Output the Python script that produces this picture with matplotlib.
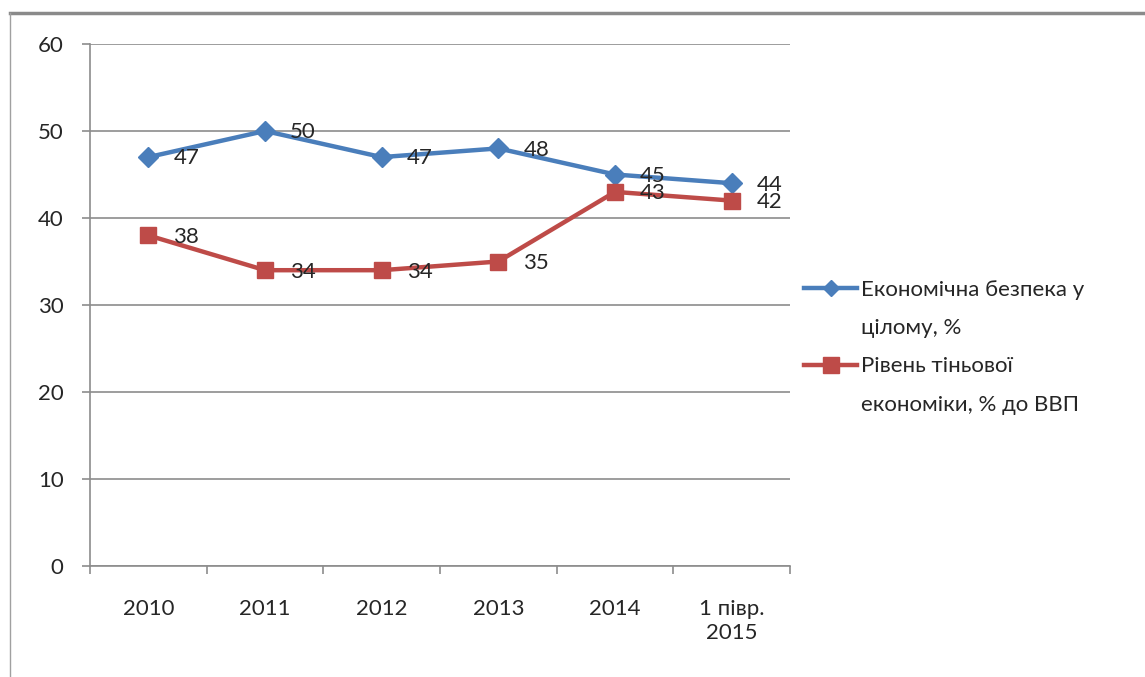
import matplotlib.pyplot as plt
from matplotlib.lines import Line2D

plt.rcParams['font.family'] = ['Lato', 'DejaVu Sans']

# data
categories = ['2010', '2011', '2012', '2013', '2014', '1 півр.\n2015']
econ_security = [47, 50, 47, 48, 45, 44]
shadow_economy = [38, 34, 34, 35, 43, 42]
legend_lines = [['Економічна безпека у', 'цілому, %'],
                ['Рівень тіньової', 'економіки, % до ВВП']]

blue = '#4A7EBB'
red = '#BE4B48'
grid_c = '#8C8C8C'
txt_c = '#262626'
fs = 16

fig = plt.figure(figsize=(11.45, 6.77), dpi=100)
ax = fig.add_axes([90 / 1145, 1 - 566 / 677, 700 / 1145, 522 / 677])

x = list(range(len(categories)))
ax.plot(x, econ_security, color=blue, lw=3.2, marker='D', ms=10,
        mec=blue, mfc=blue, zorder=3)
ax.plot(x, shadow_economy, color=red, lw=3.2, marker='s', ms=12,
        mec=red, mfc=red, zorder=3)

# value labels to the right of each point
for xi, v in zip(x, econ_security):
    ax.annotate(str(v), (xi, v), xytext=(18, -1), textcoords='offset points',
                ha='left', va='center', fontsize=fs, color=txt_c, zorder=4)
for xi, v in zip(x, shadow_economy):
    ax.annotate(str(v), (xi, v), xytext=(18, -1), textcoords='offset points',
                ha='left', va='center', fontsize=fs, color=txt_c, zorder=4)

ax.set_xlim(-0.5, len(categories) - 0.5)
ax.set_ylim(0, 60)
ax.set_yticks(range(0, 61, 10))
ax.yaxis.grid(True, color=grid_c, lw=1.2)
ax.set_axisbelow(True)

ax.set_xticks(x)
ax.set_xticklabels(categories, fontsize=fs, color=txt_c)
ax.set_xticks([i - 0.5 for i in range(len(categories) + 1)], minor=True)
ax.tick_params(axis='x', which='major', length=0, pad=24)
ax.tick_params(axis='x', which='minor', length=6, width=1.2, color=grid_c,
               direction='out')
ax.tick_params(axis='y', length=6, width=1.2, color=grid_c, pad=13,
               labelsize=fs, labelcolor=txt_c)

for s in ['top', 'right']:
    ax.spines[s].set_visible(False)
for s in ['left', 'bottom']:
    ax.spines[s].set_color(grid_c)
    ax.spines[s].set_linewidth(1.2)

# legend: handle sits on the first line of each wrapped label
blank = Line2D([], [], color='none')
h1 = Line2D([], [], color=blue, lw=3.2, marker='D', ms=8)
h2 = Line2D([], [], color=red, lw=3.2, marker='s', ms=12)
handles = [h1, blank, h2, blank]
labels = [legend_lines[0][0], legend_lines[0][1],
          legend_lines[1][0], legend_lines[1][1]]
fig.legend(handles, labels, loc='upper left',
           bbox_to_anchor=(804 / 1145, 1 - 280 / 677), frameon=False,
           fontsize=fs, handlelength=2.4, handletextpad=0.15,
           labelspacing=0.82, borderpad=0, borderaxespad=0,
           labelcolor=txt_c)

# outer frame lines
fig.add_artist(Line2D([10 / 1145, 1], [1 - 13 / 677, 1 - 13 / 677],
                      transform=fig.transFigure, color='#8A8A8A', lw=2.5))
fig.add_artist(Line2D([10 / 1145, 10 / 1145], [0, 1 - 13 / 677],
                      transform=fig.transFigure, color='#A0A0A0', lw=1))

fig.savefig('out.png', dpi=100)
